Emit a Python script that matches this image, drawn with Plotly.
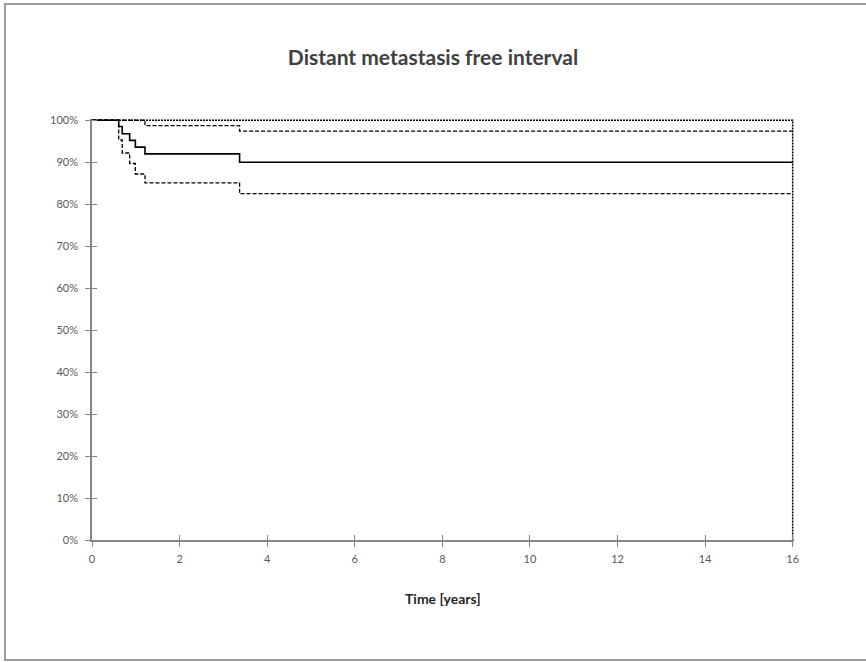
import plotly.graph_objects as go

# Kaplan-Meier estimate (years, survival proportion)
time_km = [0, 0.61, 0.69, 0.86, 0.99, 1.21, 3.37, 16]
surv_km = [1.0, 0.985, 0.968, 0.952, 0.936, 0.920, 0.900, 0.900]
lower_ci = [1.0, 0.953, 0.922, 0.897, 0.872, 0.851, 0.825, 0.825]

time_upper = [0, 1.21, 3.37, 16]
upper_ci = [1.0, 0.987, 0.974, 0.974]

time_env = [0, 16, 16]
env_vals = [1.0, 1.0, 0.0]

x_ticks = [0, 2, 4, 6, 8, 10, 12, 14, 16]
y_ticks = [0, 0.1, 0.2, 0.3, 0.4, 0.5, 0.6, 0.7, 0.8, 0.9, 1.0]

title_text = "Distant metastasis free interval"
x_title = "Time [years]"

W, H = 866, 662
L, R, T, B = 92, 794, 119, 540  # plot area pixels

FONT = "Lato, Calibri, Carlito, sans-serif"
AX = "#868686"
TXT = "#595959"

fig = go.Figure()
fig.add_trace(go.Scatter(x=time_env, y=env_vals, mode="lines",
                         line=dict(color="black", width=1.5, dash="2px,1px"),
                         hoverinfo="skip"))
fig.add_trace(go.Scatter(x=time_upper, y=upper_ci, mode="lines", line_shape="hv",
                         line=dict(color="black", width=1.3, dash="4px,2px")))
fig.add_trace(go.Scatter(x=time_km, y=lower_ci, mode="lines", line_shape="hv",
                         line=dict(color="black", width=1.3, dash="4px,2px")))
fig.add_trace(go.Scatter(x=time_km, y=surv_km, mode="lines", line_shape="hv",
                         line=dict(color="black", width=1.6)))
# empty trace to activate overlay axes (for cross ticks)
fig.add_trace(go.Scatter(x=[], y=[], xaxis="x2", yaxis="y2", showlegend=False))

xr = [0, 16.03]
yr = [0, 1.003]

common_ax = dict(showgrid=False, zeroline=False, showline=True, linecolor=AX,
                 linewidth=1.5, tickcolor=AX, tickwidth=1.3, ticklen=5)

fig.update_layout(
    width=W, height=H,
    margin=dict(l=L, r=W - R, t=T, b=H - B, pad=0),
    paper_bgcolor="white", plot_bgcolor="white",
    showlegend=False,
    font=dict(family=FONT, color=TXT),
    title=dict(text=title_text, x=433 / W, xanchor="center",
               y=1 - 58 / H, yanchor="middle",
               font=dict(family=FONT, size=21, color="#404040", weight="bold")),
    xaxis=dict(range=xr, tickvals=x_ticks, ticktext=[str(v) for v in x_ticks],
               ticks="outside", tickfont=dict(size=11, color=TXT),
               ticklabelstandoff=3, **common_ax),
    yaxis=dict(range=yr, tickvals=y_ticks,
               ticktext=[f"{int(round(v * 100))}%" for v in y_ticks],
               ticks="outside", tickfont=dict(size=11, color=TXT),
               ticklabelstandoff=5, **common_ax),
    xaxis2=dict(range=xr, tickvals=x_ticks, ticks="inside", showticklabels=False,
                overlaying="x", anchor="y2", **common_ax),
    yaxis2=dict(range=yr, tickvals=y_ticks, ticks="inside", showticklabels=False,
                overlaying="y", anchor="x2", **common_ax),
    annotations=[dict(text=f"<b>{x_title}</b>", xref="paper", yref="paper",
                      x=(442.5 - L) / (R - L), y=(B - 598) / (B - T),
                      xanchor="center", yanchor="middle",
                      showarrow=False, font=dict(family=FONT, size=14, color="#262626"))],
    shapes=[dict(type="rect", xref="paper", yref="paper",
                 x0=(5 - L) / (R - L), x1=(870 - L) / (R - L),
                 y0=(B - 660) / (B - T), y1=(B - 4) / (B - T),
                 line=dict(color="#9a9a9a", width=2), fillcolor="rgba(0,0,0,0)",
                 layer="below")],
)

fig.write_html("out.html")
